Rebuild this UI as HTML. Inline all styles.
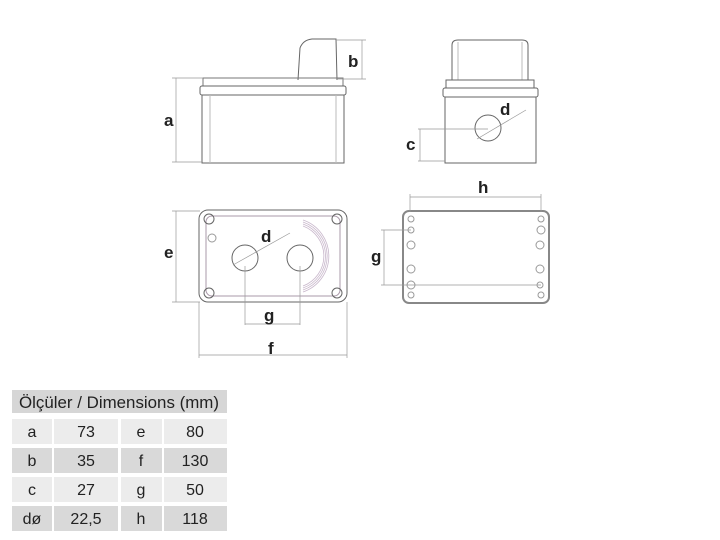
<!DOCTYPE html>
<html><head><style>
body{margin:0;background:#fff;width:720px;height:540px;overflow:hidden;font-family:"Liberation Sans",sans-serif}
svg{position:absolute;left:0;top:0}
</style></head><body>
<svg width="720" height="540" viewBox="0 0 720 540">
<g fill="none" stroke="#666" stroke-width="1">
<path d="M298 80 L300 48 Q303 40 312 39 L336 39 L337 80" />
<rect x="203" y="78" width="140" height="8" stroke="#777"/>
<rect x="200" y="86" width="146" height="9" rx="2"/>
<rect x="202" y="95" width="142" height="68"/>
<line x1="210" y1="95" x2="210" y2="163" stroke="#bbb"/>
<line x1="336" y1="95" x2="336" y2="163" stroke="#bbb"/>
<path d="M452 80 L452 45 Q452 40 458 40 L522 40 Q528 40 528 45 L528 80"/>
<line x1="458" y1="42" x2="458" y2="80" stroke="#bbb"/>
<line x1="522" y1="42" x2="522" y2="80" stroke="#bbb"/>
<rect x="446" y="80" width="88" height="8"/>
<rect x="443" y="88" width="95" height="9" rx="2"/>
<rect x="445" y="97" width="91" height="66"/>
<circle cx="488" cy="128" r="13"/>
<rect x="199" y="210" width="148" height="92" rx="9"/>
<rect x="206" y="216" width="134" height="80" rx="6" stroke="#a9a"/>
<circle cx="245" cy="258" r="13"/>
<circle cx="300" cy="258" r="13"/>
<g stroke="#c9b8cc" stroke-width="0.8">
<path d="M303 220 A38 38 0 0 1 303 292"/>
<path d="M303 222 A36 36 0 0 1 303 290"/>
<path d="M303 224 A34 34 0 0 1 303 288"/>
<path d="M303 226 A32 32 0 0 1 303 286"/>
</g>
<circle cx="209" cy="219" r="5"/><circle cx="337" cy="219" r="5"/>
<circle cx="209" cy="293" r="5"/><circle cx="337" cy="293" r="5"/>
<circle cx="212" cy="238" r="4" stroke="#999"/>
<rect x="403" y="211" width="146" height="92" rx="6" stroke-width="2" stroke="#888"/>
<g stroke="#999">
<circle cx="411" cy="219" r="3"/><circle cx="541" cy="219" r="3"/>
<circle cx="411" cy="295" r="3"/><circle cx="541" cy="295" r="3"/>
<circle cx="411" cy="230" r="3"/><circle cx="541" cy="230" r="4"/>
<circle cx="411" cy="245" r="4"/><circle cx="540" cy="245" r="4"/>
<circle cx="411" cy="269" r="4"/><circle cx="540" cy="269" r="4"/>
<circle cx="411" cy="285" r="4"/><circle cx="540" cy="285" r="3"/>
</g>
</g>
<g stroke="#999" stroke-width="0.7" fill="none">
<line x1="176" y1="78" x2="176" y2="162"/><line x1="172" y1="78" x2="203" y2="78"/><line x1="172" y1="162" x2="202" y2="162"/>
<line x1="362" y1="40" x2="362" y2="79"/><line x1="336" y1="40" x2="366" y2="40"/><line x1="337" y1="79" x2="366" y2="79"/>
<line x1="420" y1="129" x2="420" y2="161"/><line x1="418" y1="129" x2="488" y2="129"/><line x1="418" y1="161" x2="445" y2="161"/>
<line x1="477" y1="139" x2="526" y2="110"/>
<line x1="176" y1="211" x2="176" y2="302"/><line x1="172" y1="211" x2="200" y2="211"/><line x1="172" y1="302" x2="200" y2="302"/>
<line x1="233" y1="265" x2="290" y2="233"/>
<line x1="245" y1="266" x2="245" y2="325"/><line x1="300" y1="266" x2="300" y2="325"/><line x1="245" y1="324" x2="300" y2="324"/>
<line x1="199" y1="302" x2="199" y2="358"/><line x1="347" y1="302" x2="347" y2="358"/><line x1="199" y1="355" x2="347" y2="355"/>
<line x1="410" y1="194" x2="410" y2="212"/><line x1="541" y1="194" x2="541" y2="212"/><line x1="410" y1="197" x2="541" y2="197"/>
<line x1="384" y1="230" x2="384" y2="285"/><line x1="381" y1="230" x2="411" y2="230"/><line x1="381" y1="285" x2="541" y2="285"/>
</g>
<g font-family="Liberation Sans, sans-serif" font-size="17" fill="#222" font-weight="bold">
<text x="164" y="126">a</text><text x="348" y="67">b</text>
<text x="406" y="150">c</text><text x="500" y="115">d</text>
<text x="164" y="258">e</text><text x="261" y="242">d</text>
<text x="264" y="321">g</text><text x="268" y="354">f</text>
<text x="478" y="193">h</text><text x="371" y="262">g</text>
</g>
<g>
<rect x="12" y="390" width="215" height="23" fill="#d6d6d6"/>
<rect x="12" y="419" width="40" height="25" fill="#ececec"/><rect x="54" y="419" width="64" height="25" fill="#ececec"/><rect x="121" y="419" width="41" height="25" fill="#ececec"/><rect x="164" y="419" width="63" height="25" fill="#ececec"/>
<rect x="12" y="448" width="40" height="25" fill="#d9d9d9"/><rect x="54" y="448" width="64" height="25" fill="#d9d9d9"/><rect x="121" y="448" width="41" height="25" fill="#d9d9d9"/><rect x="164" y="448" width="63" height="25" fill="#d9d9d9"/>
<rect x="12" y="477" width="40" height="25" fill="#ececec"/><rect x="54" y="477" width="64" height="25" fill="#ececec"/><rect x="121" y="477" width="41" height="25" fill="#ececec"/><rect x="164" y="477" width="63" height="25" fill="#ececec"/>
<rect x="12" y="506" width="40" height="25" fill="#d9d9d9"/><rect x="54" y="506" width="64" height="25" fill="#d9d9d9"/><rect x="121" y="506" width="41" height="25" fill="#d9d9d9"/><rect x="164" y="506" width="63" height="25" fill="#d9d9d9"/>
</g>
<g font-family="Liberation Sans, sans-serif" font-size="16" fill="#222" text-anchor="middle">
<text x="119" y="408" font-size="16.5" textLength="200" lengthAdjust="spacingAndGlyphs">Ölçüler / Dimensions (mm)</text>
<text x="32" y="437">a</text><text x="86" y="437">73</text><text x="141" y="437">e</text><text x="195" y="437">80</text>
<text x="32" y="466">b</text><text x="86" y="466">35</text><text x="141" y="466">f</text><text x="195" y="466">130</text>
<text x="32" y="495">c</text><text x="86" y="495">27</text><text x="141" y="495">g</text><text x="195" y="495">50</text>
<text x="32" y="524">dø</text><text x="86" y="524">22,5</text><text x="141" y="524">h</text><text x="195" y="524">118</text>
</g>
</svg>
</body></html>
